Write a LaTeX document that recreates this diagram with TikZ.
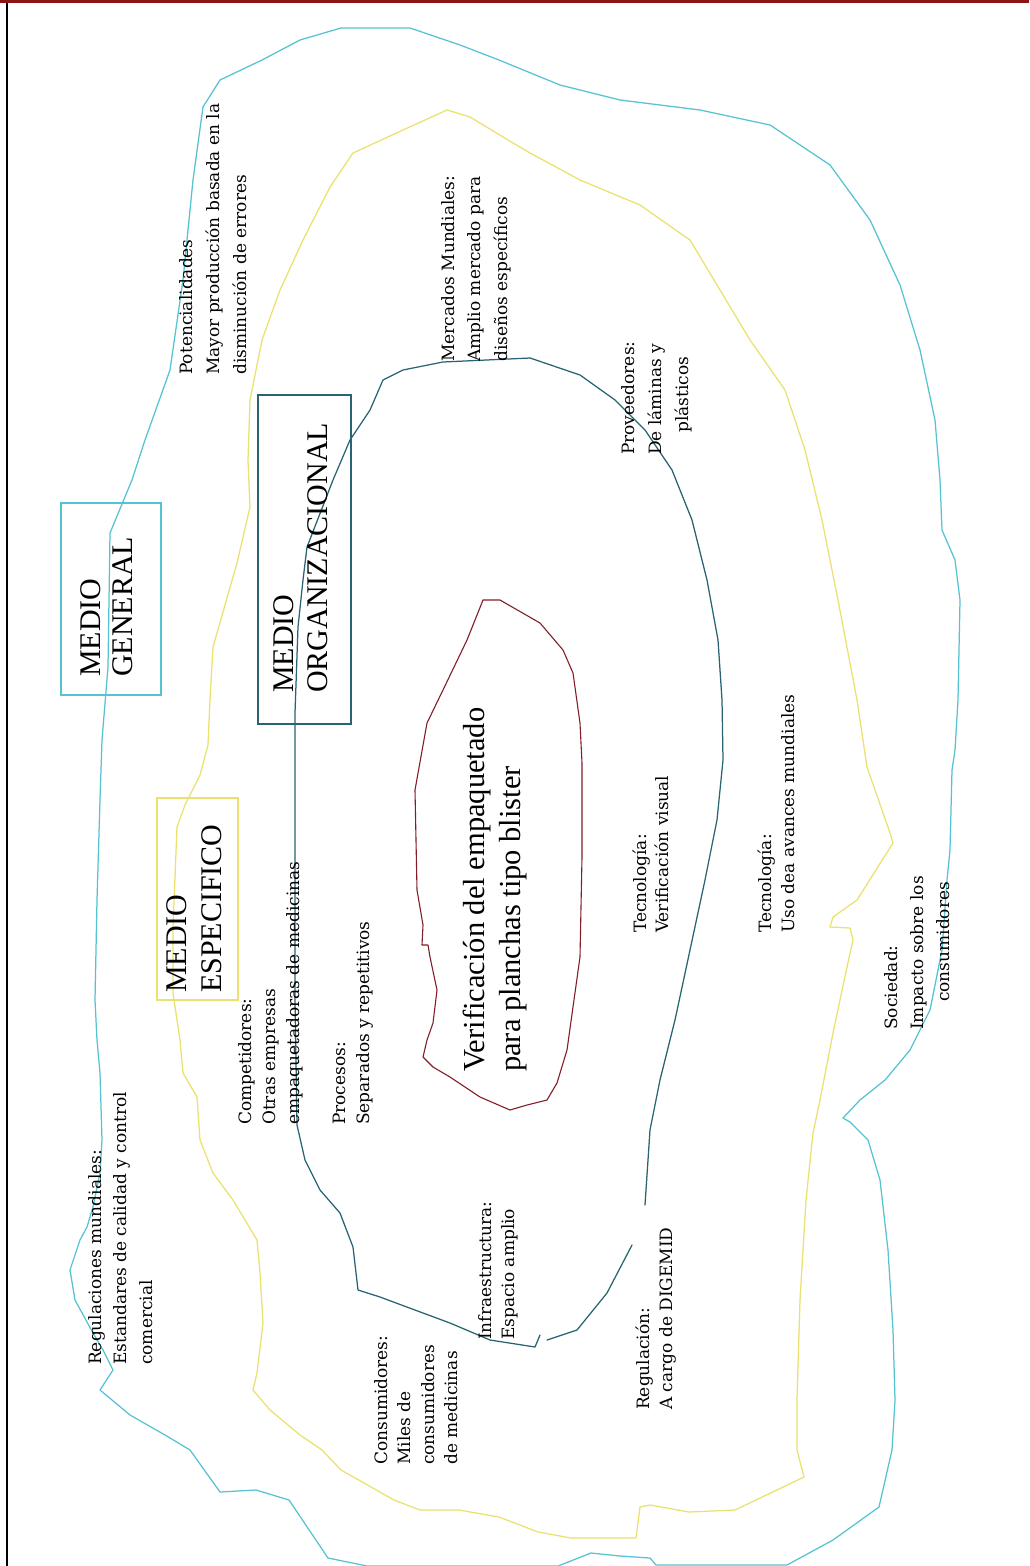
\documentclass[tikz,border=0pt]{standalone}
\usepackage{fontspec}
\setmainfont{Liberation Serif}
\newfontfamily\notefont{DejaVu Serif}
\definecolor{envgeneral}{RGB}{85,195,210}
\definecolor{envspecific}{RGB}{235,225,110}
\definecolor{envorg}{RGB}{40,100,115}
\definecolor{core}{RGB}{130,30,40}
\definecolor{topbar}{RGB}{140,20,20}
\begin{document}
\begin{tikzpicture}[x=1pt,y=-1pt,
  env/.style={line width=1.25pt, line join=round, line cap=round},
  labelbox/.style={line width=1.6pt},
  bignote/.style={rotate=90, anchor=north west, inner sep=0pt, align=left,
    font=\fontsize{30}{34}\selectfont},
  smallnote/.style={rotate=90, anchor=north west, inner sep=0pt, align=left,
    font=\notefont\fontsize{17}{25}\selectfont},
]
% page frame
\useasboundingbox (0,0) rectangle (1029,1566);
\fill[white] (0,0) rectangle (1029,1566);
\fill[topbar] (0,0) rectangle (1029,3);
\draw[black, line width=2.5pt] (7,3) -- (7,1566);

% general environment (outer)
\draw[env, envgeneral] (341,28) -- (410,28) -- (460,45) -- (499,60) -- (560,85) -- (620,100)
  -- (700,110) -- (770,125) -- (830,165) -- (870,220) -- (900,285) -- (920,350) -- (935,420)
  -- (940,480) -- (942,530) -- (955,560) -- (960,600) -- (958,700) -- (955,750) -- (952,770)
  -- (950,850) -- (947,880) -- (942,950) -- (930,1010) -- (910,1050) -- (885,1080) -- (860,1100)
  -- (843,1118) -- (850,1122) -- (868,1140) -- (880,1180) -- (888,1250) -- (893,1330)
  -- (895,1400) -- (892,1450) -- (879,1507) -- (833,1540) -- (787,1565) -- (656,1565)
  -- (650,1558) -- (620,1556) -- (591,1553) -- (558,1566) -- (367,1566) -- (328,1558)
  -- (289,1500) -- (256,1490) -- (220,1492) -- (190,1450) -- (165,1435) -- (130,1415)
  -- (100,1390) -- (113,1370) -- (103,1350) -- (93,1333) -- (75,1300) -- (70,1270)
  -- (80,1240) -- (87,1227) -- (93,1207) -- (100,1173) -- (102,1140) -- (100,1073)
  -- (97,1040) -- (95,1000) -- (97,900) -- (100,800) -- (102,740) -- (108,667) -- (110,533)
  -- (132,480) -- (145,440) -- (170,370) -- (183,280) -- (193,180) -- (203,107) -- (220,80)
  -- (262,60) -- (300,40) -- cycle;

% specific environment
\draw[env, envspecific] (447,110) -- (470,117) -- (503,137) -- (530,153) -- (580,180)
  -- (640,205) -- (690,240) -- (720,290) -- (750,340) -- (785,390) -- (805,450) -- (822,520)
  -- (838,600) -- (857,700) -- (867,767) -- (890,833) -- (893,843) -- (857,900) -- (833,917)
  -- (830,927) -- (850,928) -- (853,940) -- (847,967) -- (833,1033) -- (820,1100) -- (813,1133)
  -- (806,1200) -- (800,1300) -- (797,1400) -- (797,1450) -- (804,1477) -- (735,1510)
  -- (689,1512) -- (650,1505) -- (640,1507) -- (636,1538) -- (571,1538) -- (538,1532)
  -- (499,1517) -- (459,1510) -- (420,1510) -- (394,1500) -- (341,1470) -- (322,1450)
  -- (300,1435) -- (270,1410) -- (253,1390) -- (257,1373) -- (263,1323) -- (260,1273)
  -- (257,1240) -- (233,1200) -- (213,1173) -- (200,1140) -- (197,1097) -- (183,1073)
  -- (180,1040) -- (177,1020) -- (173,993) -- (173,927) -- (177,827) -- (185,805) -- (200,775)
  -- (208,745) -- (210,700) -- (213,647) -- (237,563) -- (250,507) -- (248,460) -- (250,400)
  -- (262,340) -- (280,290) -- (303,240) -- (330,187) -- (353,153) -- (403,130) -- cycle;

% organizational environment
\draw[env, envorg] (530,358) -- (580,375) -- (615,400) -- (645,430) -- (672,470) -- (692,520)
  -- (707,580) -- (718,640) -- (722,700) -- (723,760) -- (717,820) -- (705,880) -- (690,950)
  -- (675,1020) -- (660,1080) -- (650,1130) -- (645,1205);
\draw[env, envorg] (632,1245) -- (607,1293) -- (577,1330) -- (547,1340);
\draw[env, envorg] (540,1335) -- (535,1347) -- (490,1340) -- (450,1323) -- (423,1313)
  -- (380,1297) -- (358,1290) -- (353,1247) -- (340,1213) -- (320,1190) -- (305,1160)
  -- (297,1125) -- (295,1000) -- (295,890) -- (295,713) -- (298,627) -- (303,580) -- (307,547)
  -- (333,480) -- (350,440) -- (370,410) -- (383,380) -- (403,370) -- (443,362) -- (530,358);

% core activity outline
\draw[env, core, line width=1.1pt] (483,600) -- (500,600) -- (540,623) -- (563,650) -- (573,673)
  -- (580,723) -- (582,763) -- (582,857) -- (580,957) -- (573,1007) -- (567,1050) -- (557,1083)
  -- (547,1100) -- (527,1105) -- (510,1110) -- (480,1097) -- (450,1077) -- (433,1067)
  -- (423,1057) -- (427,1040) -- (433,1023) -- (437,990) -- (430,957) -- (428,945) -- (422,945)
  -- (423,925) -- (417,890) -- (415,790) -- (427,723) -- (443,690) -- (467,640) -- cycle;

% label boxes
\draw[labelbox, envgeneral] (61,503) rectangle (161,695);
\draw[labelbox, envorg] (258,395) rectangle (351,724);
\draw[labelbox, envspecific] (157,798) rectangle (238,1000);

% box titles
\node[bignote, font=\fontsize{30}{32}\selectfont] (tgeneral) at (80,677) {MEDIO\\GENERAL};
\node[bignote] (torg) at (273,693) {MEDIO\\ORGANIZACIONAL};
\node[bignote, font=\fontsize{30}{35}\selectfont] (tspec) at (166,993) {MEDIO\\ESPECIFICO};

% central activity
\node[bignote, font=\fontsize{30.5}{36}\selectfont] (coretext) at (463,1072)
  {Verificación del empaquetado\\para planchas tipo blister};

% factor notes
\node[smallnote, font=\notefont\fontsize{17}{27}\selectfont] (potenc) at (179,375)
  {Potencialidades\\Mayor producción basada en la\\disminución de errores};
\node[smallnote, font=\notefont\fontsize{17}{26.5}\selectfont] (mercados) at (441,362)
  {Mercados Mundiales:\\Amplio mercado para\\diseños específicos};
\node[smallnote, font=\notefont\fontsize{17}{27}\selectfont] (proveed) at (621,455)
  {Proveedores:\\De láminas y\\\hspace*{22pt}plásticos};
\node[smallnote, font=\notefont\fontsize{17}{25.5}\selectfont] (regmund) at (88,1365)
  {Regulaciones mundiales:\\Estandares de calidad y control\\comercial};
\node[smallnote, font=\notefont\fontsize{17}{24}\selectfont] (compet) at (238,1125)
  {Competidores:\\Otras empresas\\empaquetadoras de medicinas};
\node[smallnote, font=\notefont\fontsize{17}{24}\selectfont] (procesos) at (333,1125)
  {Procesos:\\Separados y repetitivos};
\node[smallnote, font=\notefont\fontsize{17}{23.5}\selectfont] (infra) at (478,1340)
  {Infraestructura:\\Espacio amplio};
\node[smallnote, font=\notefont\fontsize{17}{23.5}\selectfont] (consum) at (374,1465)
  {Consumidores:\\Miles de\\consumidores\\de medicinas};
\node[smallnote, font=\notefont\fontsize{17}{23}\selectfont] (regul) at (636,1410)
  {Regulación:\\A cargo de DIGEMID};
\node[smallnote, font=\notefont\fontsize{17}{22}\selectfont] (tecno) at (633,933)
  {Tecnología:\\Verificación visual};
\node[smallnote, font=\notefont\fontsize{17}{23}\selectfont] (tecnomund) at (758,933)
  {Tecnología:\\Uso dea avances mundiales};
\node[smallnote, font=\notefont\fontsize{17}{26}\selectfont] (sociedad) at (884,1030)
  {Sociedad:\\Impacto sobre los\\\hspace*{28pt}consumidores};
\end{tikzpicture}
\end{document}
